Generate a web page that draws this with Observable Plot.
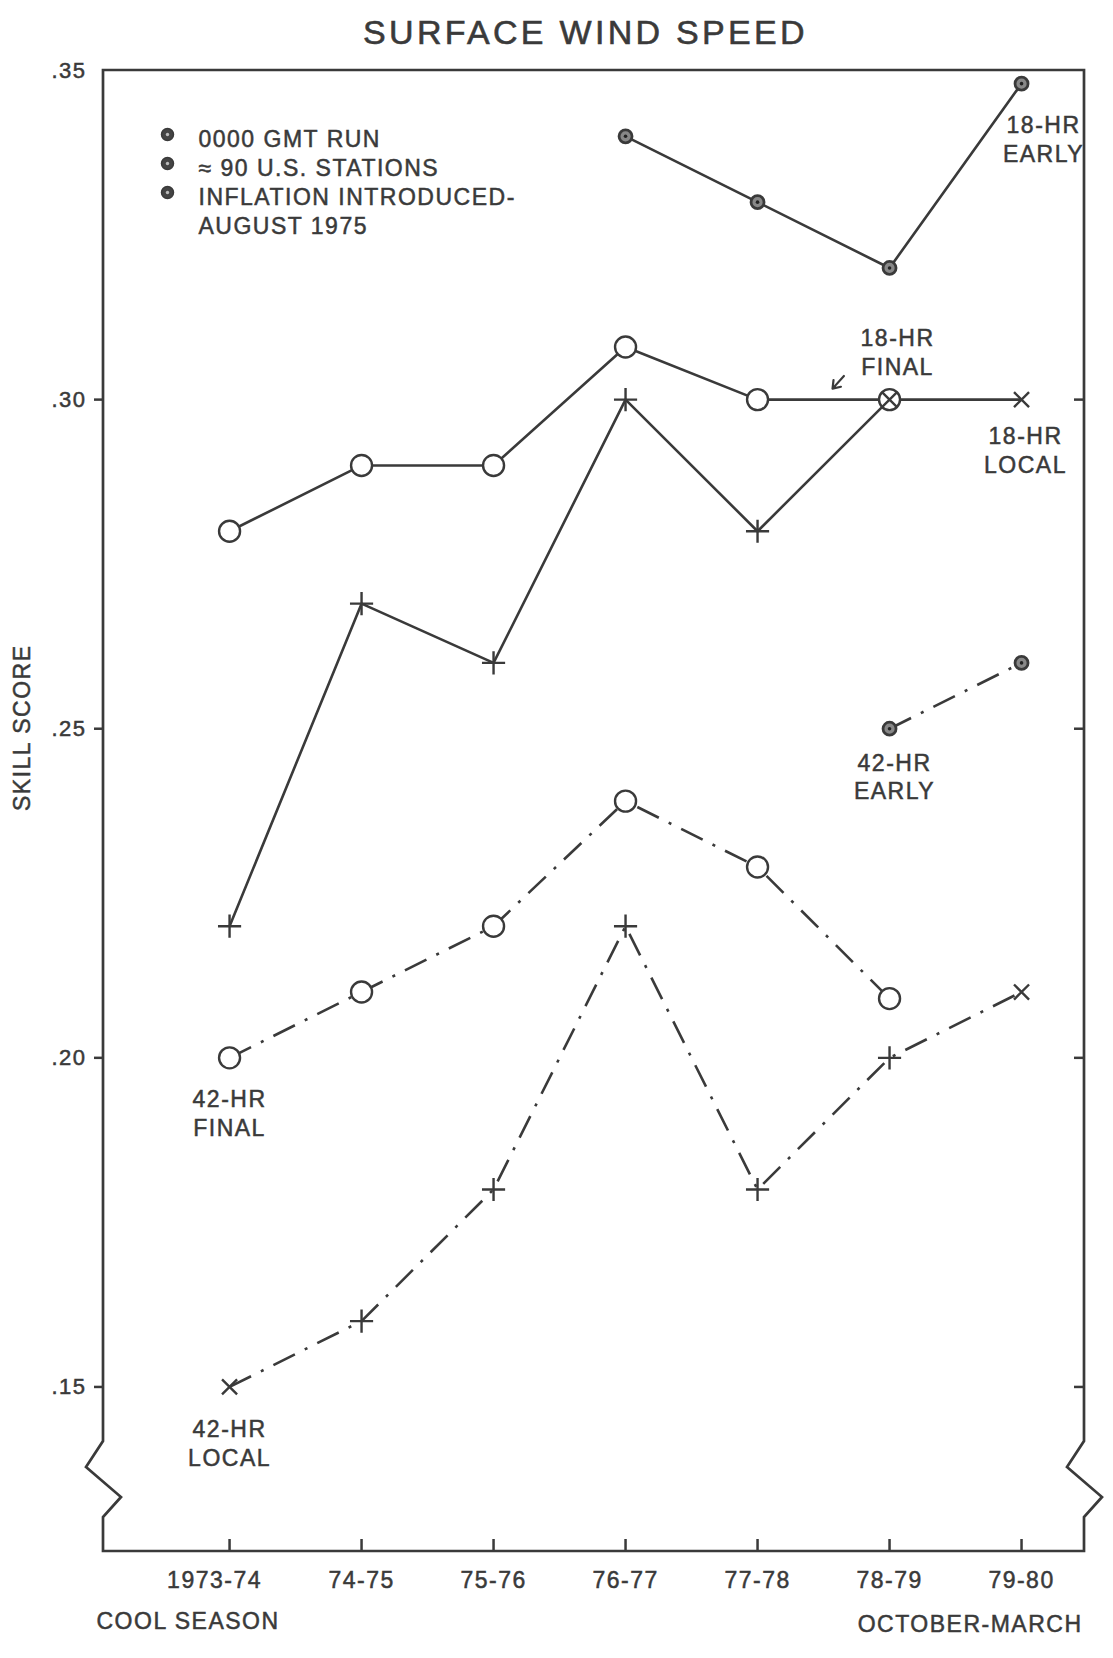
<!DOCTYPE html>
<html>
<head>
<meta charset="utf-8">
<script src="https://cdn.jsdelivr.net/npm/d3@7"></script>
<script src="https://cdn.jsdelivr.net/npm/@observablehq/plot@0.6"></script>
<style>
html, body { margin: 0; padding: 0; background: #fff; }
#title {
  width: 1113px; height: 56px; box-sizing: border-box;
  padding-top: 13px; padding-left: 58px;
  text-align: center; white-space: nowrap; overflow: hidden;
  font-family: "Liberation Sans", Arial, sans-serif; font-size: 34px;
  letter-spacing: 3.3px; color: #3a3a3a; line-height: normal;
  -webkit-text-stroke: 0.6px #3a3a3a;
}
#chart svg text { letter-spacing: 1.5px; stroke: #3a3a3a; stroke-width: 0.5px; }
</style>
</head>
<body>
<div id="title"></div>
<div id="chart"></div>
<script>
// ---- data ----
const title = "SURFACE WIND SPEED";
const seasons = ["1973-74", "74-75", "75-76", "76-77", "77-78", "78-79", "79-80"];
const yTicks = [0.15, 0.20, 0.25, 0.30, 0.35];
const yLabel = "SKILL SCORE";
const xLabel = "COOL SEASON";
const xNote = "OCTOBER-MARCH";
const legendLines = ["0000 GMT RUN", "\u2248 90 U.S. STATIONS", "INFLATION INTRODUCED-", "AUGUST 1975"];

const hr18Early = [null, null, null, 0.340, 0.330, 0.320, 0.348];
const hr18Final = [0.280, 0.290, 0.290, 0.308, 0.300, 0.300, null];
const hr18Local = [0.220, 0.269, 0.260, 0.300, 0.280, 0.300, 0.300];
const hr42Early = [null, null, null, null, null, 0.250, 0.260];
const hr42Final = [0.200, 0.210, 0.220, 0.239, 0.229, 0.209, null];
const hr42Local = [0.150, 0.160, 0.180, 0.220, 0.180, 0.200, 0.210];

const seriesNames = ["18-HR EARLY", "18-HR FINAL", "18-HR LOCAL", "42-HR EARLY", "42-HR FINAL", "42-HR LOCAL"];

// ---- helpers ----
document.getElementById("title").textContent = title;
const ink = "#3a3a3a";
const dashDot = "24,11,3,11";
const rows = (values, name) =>
  values.map((v, i) => ({series: name, i, season: seasons[i], value: v})).filter(d => d.value != null);

const e18 = rows(hr18Early, seriesNames[0]);
const f18 = rows(hr18Final, seriesNames[1]);
const l18 = rows(hr18Local, seriesNames[2]);
const e42 = rows(hr42Early, seriesNames[3]);
const f42 = rows(hr42Final, seriesNames[4]);
const l42 = rows(hr42Local, seriesNames[5]);

const at = (arr, i) => [arr.find(d => d.i === i)];
const label = (arr, i, name, dx, dy) =>
  Plot.text(at(arr, i), {x: "i", y: "value", text: () => name.replace(" ", "\n"),
    dx, dy, lineAnchor: "middle", lineHeight: 1.26, fontSize: 23, fill: ink});

// frame with break symbols on both sides
function frame(index, scales, values, dim) {
  const l = dim.marginLeft, r = dim.width - dim.marginRight;
  const t = dim.marginTop, b = dim.height - dim.marginBottom;
  const zig = [[0, -34], [18, -54], [-17, -84], [0, -110]];
  let p = `M${l},${b}`;
  for (const [zx, zy] of zig) p += `L${l + zx},${b + zy}`;
  p += `L${l},${t}L${r},${t}`;
  for (const [zx, zy] of zig.slice().reverse()) p += `L${r + zx},${b + zy}`;
  p += `L${r},${b}Z`;
  return d3.create("svg:path").attr("d", p).attr("fill", "none")
    .attr("stroke", ink).attr("stroke-width", 2.7).attr("stroke-linejoin", "miter").node();
}

const arrowShape = {
  draw(context, l) {
    context.moveTo(0, 0);
    context.lineTo(0, -l);
    context.moveTo(-5, -l + 7);
    context.lineTo(0, -l);
    context.lineTo(5, -l + 7);
  }
};

const lineOpts = {x: "i", y: "value", stroke: ink, strokeWidth: 2.6, strokeLinecap: "butt"};
const isTimes18 = d => d.i >= 5;
const isTimes42 = d => d.i === 0 || d.i === 6;

const chart = Plot.plot({
  width: 1113,
  height: 1602,
  marginTop: 14,
  marginBottom: 107,
  marginLeft: 103,
  marginRight: 29,
  x: {type: "linear", domain: [-0.955, 6.477], label: null},
  y: {domain: [0.125, 0.35], label: null},
  style: {fontFamily: "'Liberation Sans', Arial, sans-serif", fontSize: "23px", color: ink, background: "#fff", overflow: "visible"},
  marks: [
    frame,
    // axes
    Plot.axisX(d3.range(seasons.length), {tickSize: -12, fill: "none", stroke: ink, strokeWidth: 2.5, label: null}),
    Plot.axisX([0], {tickSize: 0, tickPadding: 20, dx: -15, tickFormat: i => seasons[i], fontSize: 23, fill: ink, label: null}),
    Plot.axisX(d3.range(1, seasons.length), {tickSize: 0, tickPadding: 20, tickFormat: i => seasons[i], fontSize: 23, fill: ink, label: null}),
    Plot.axisY(yTicks.slice(0, 4), {anchor: "left", tickSize: 9, fill: "none", stroke: ink, strokeWidth: 2.5, label: null}),
    Plot.axisY(yTicks.slice(0, 4), {anchor: "right", tickSize: -11, fill: "none", stroke: ink, strokeWidth: 2.5, label: null}),
    Plot.axisY(yTicks, {anchor: "left", tickSize: 0, tickPadding: 17, tickFormat: d => d.toFixed(2).replace(/^0/, ""), fontSize: 22, fill: ink, label: null}),
    Plot.text([yLabel], {text: d => d, frameAnchor: "left", dx: -81, rotate: -90, fontSize: 23, fill: ink}),
    Plot.text([xLabel], {text: d => d, frameAnchor: "bottom-left", textAnchor: "start", dx: -7, dy: 77, fontSize: 23, fill: ink}),
    Plot.text([xNote], {text: d => d, frameAnchor: "bottom-right", textAnchor: "end", dx: -2, dy: 80, fontSize: 23, fill: ink}),

    // legend
    Plot.text([legendLines.join("\n")], {text: d => d, frameAnchor: "top-left", textAnchor: "start", lineAnchor: "top",
      dx: 95, dy: 56, lineHeight: 1.26, fontSize: 23, fill: ink}),
    ...[0, 1, 2].flatMap(k => [
      Plot.dot([k], {frameAnchor: "top-left", dx: 64, dy: 64 + k * 29, r: 6, fill: "#444", stroke: ink, strokeWidth: 1.5}),
      Plot.dot([k], {frameAnchor: "top-left", dx: 64, dy: 64 + k * 29, r: 1.7, fill: "#bbb"})
    ]),

    // lines
    Plot.line(e18, lineOpts),
    Plot.line(f18, lineOpts),
    Plot.line(l18, lineOpts),
    Plot.line(e42, {...lineOpts, strokeDasharray: dashDot}),
    Plot.line(f42, {...lineOpts, strokeDasharray: dashDot}),
    Plot.line(l42, {...lineOpts, strokeDasharray: dashDot}),

    // markers
    Plot.dot(f18, {x: "i", y: "value", r: 10.5, fill: "#fff", stroke: ink, strokeWidth: 2.4}),
    Plot.dot(f42, {x: "i", y: "value", r: 10.5, fill: "#fff", stroke: ink, strokeWidth: 2.4}),
    Plot.dot(l18.filter(d => !isTimes18(d)), {x: "i", y: "value", symbol: "plus", r: 7.5, stroke: ink, strokeWidth: 2.4}),
    Plot.dot(l18.filter(isTimes18), {x: "i", y: "value", symbol: "times", r: 6.9, stroke: ink, strokeWidth: 2.4}),
    Plot.dot(l42.filter(d => !isTimes42(d)), {x: "i", y: "value", symbol: "plus", r: 7.5, stroke: ink, strokeWidth: 2.4}),
    Plot.dot(l42.filter(isTimes42), {x: "i", y: "value", symbol: "times", r: 6.9, stroke: ink, strokeWidth: 2.4}),
    ...[e18, e42].flatMap(arr => [
      Plot.dot(arr, {x: "i", y: "value", r: 6.5, fill: "#888", stroke: ink, strokeWidth: 2.8}),
      Plot.dot(arr, {x: "i", y: "value", r: 1.8, fill: "#222"})
    ]),

    // arrow pointing to the 18-HR FINAL line
    Plot.vector(at(f18, 5), {x: "i", y: "value", length: 17, rotate: 222, anchor: "end", dx: -57, dy: -11,
      shape: arrowShape, stroke: ink, strokeWidth: 2.2}),

    // series labels
    label(e18, 6, seriesNames[0], 22, 55),
    label(f18, 5, seriesNames[1], 8, -48),
    label(l18, 6, seriesNames[2], 4, 50),
    label(e42, 5, seriesNames[3], 5, 47),
    label(f42, 0, seriesNames[4], 0, 54),
    label(l42, 0, seriesNames[5], 0, 55)
  ]
});
document.getElementById("chart").appendChild(chart);
</script>
</body>
</html>
